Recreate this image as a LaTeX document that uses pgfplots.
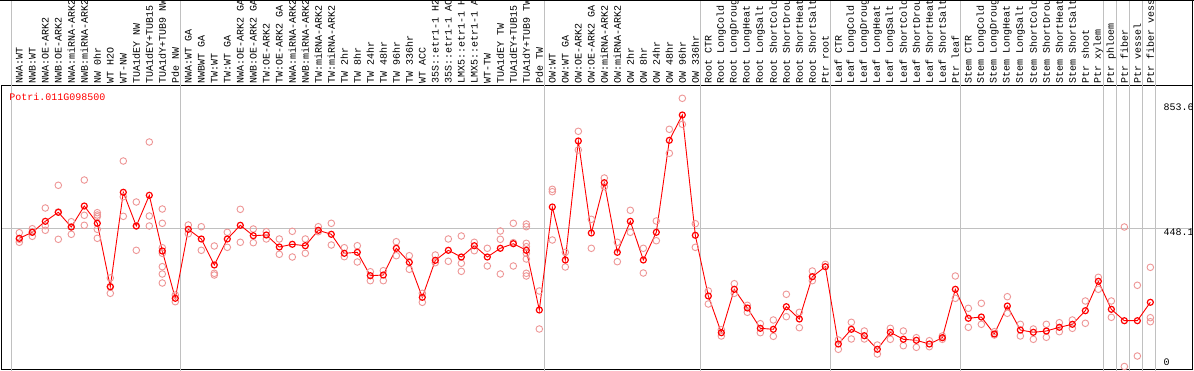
\documentclass[border=0pt]{standalone}
\usepackage{fontspec}
\usepackage{pgfplots}
\pgfplotsset{compat=1.18}
\newfontfamily\mono{Liberation Mono}
\definecolor{rep}{RGB}{238,150,150}
\definecolor{gridc}{RGB}{192,192,192}
\begin{document}
\begin{tikzpicture}[x=1pt,y=1pt]
\useasboundingbox (0,0) rectangle (1194,370);
\clip (0,0) rectangle (1194,370);
\fill[white] (0,0) rectangle (1194,370);
\begin{axis}[
  at={(1.5pt,0.7pt)}, anchor=south west, scale only axis,
  width=1191.2pt, height=284.3pt,
  xmin=-1.369, xmax=90.26, ymin=-9.08, ymax=912.6,
  clip=false, axis line style={black, line width=1pt},
  xtick={0,...,87},
  xticklabels={NWA:WT,NWB:WT,NWA:OE-ARK2,NWB:OE-ARK2,NWA:miRNA-ARK2,NWB:miRNA-ARK2,NW 0hr,WT H2O,WT-NW,TUA1dEY NW,TUA1dEY+TUB15,TUA1dY+TUB9 NW,Pde NW,
  NWA:WT GA,NWBWT GA,TW:WT,TW:WT GA,NWA:OE-ARK2 GA,NWB:OE-ARK2 GA,TW:OE-ARK2,TW:OE-ARK2 GA,NWA:miRNA-ARK2,NWB:miRNA-ARK2,TW:miRNA-ARK2,TW:miRNA-ARK2,TW 2hr,TW 8hr,TW 24hr,TW 48hr,TW 96hr,TW 336hr,WT ACC,35S::etr1-1 H2,35S::etr1-1 AC,LMX5::etr1-1 H,LMX5::etr1-1 A,WT-TW,TUA1dEY TW,TUA1dEY+TUB15,TUA1dY+TUB9 TW,Pde TW,
  OW:WT,OW:WT GA,OW:OE-ARK2,OW:OE-ARK2 GA,OW:miRNA-ARK2,OW:miRNA-ARK2,OW 2hr,OW 8hr,OW 24hr,OW 48hr,OW 96hr,OW 336hr,
  Root CTR,Root LongCold,Root LongDroug,Root LongHeat,Root LongSalt,Root ShortCold,Root ShortDrou,Root ShortHeat,Root ShortSalt,Ptr root,
  Leaf CTR,Leaf LongCold,Leaf LongDroug,Leaf LongHeat,Leaf LongSalt,Leaf ShortCold,Leaf ShortDrou,Leaf ShortHeat,Leaf ShortSalt,Ptr leaf,
  Stem CTR,Stem LongCold,Stem LongDroug,Stem LongHeat,Stem LongSalt,Stem ShortCold,Stem ShortDrou,Stem ShortHeat,Stem ShortSalt,Ptr shoot,
  Ptr xylem,Ptr phloem,Ptr fiber,Ptr vessel,Ptr fiber vess},
  xticklabel pos=upper, major tick length=0pt,
  xticklabel style={rotate=90, anchor=west, inner sep=1.5pt, font=\mono\fontsize{10}{10}\selectfont},
  ytick={448.1}, yticklabels={}, ymajorgrids,
  major grid style={gridc, line width=1pt},
]
\draw[gridc, line width=1pt] (axis cs:-0.615,-20) -- (axis cs:-0.615,1200);
\draw[gridc, line width=1pt] (axis cs:12.385,-20) -- (axis cs:12.385,1200);
\draw[gridc, line width=1pt] (axis cs:40.385,-20) -- (axis cs:40.385,1200);
\draw[gridc, line width=1pt] (axis cs:52.385,-20) -- (axis cs:52.385,1200);
\draw[gridc, line width=1pt] (axis cs:62.385,-20) -- (axis cs:62.385,1200);
\draw[gridc, line width=1pt] (axis cs:72.385,-20) -- (axis cs:72.385,1200);
\draw[gridc, line width=1pt] (axis cs:83.385,-20) -- (axis cs:83.385,1200);
\draw[gridc, line width=1pt] (axis cs:84.385,-20) -- (axis cs:84.385,1200);
\draw[gridc, line width=1pt] (axis cs:85.385,-20) -- (axis cs:85.385,1200);
\draw[gridc, line width=1pt] (axis cs:86.385,-20) -- (axis cs:86.385,1200);
\draw[gridc, line width=1pt] (axis cs:87.385,-20) -- (axis cs:87.385,1200);
% replicates
\addplot[only marks, mark=o, mark size=3.3pt, color=rep, mark options={line width=0.9pt}] coordinates {
(0,433.8)(0,412.4)(0,402.7)
(1,446.7)(1,422.1)(1,436.0)
(2,513.9)(2,456.5)(2,441.6)
(3,587.5)(3,412.4)(3,500.9)
(4,469.4)(4,428.6)(4,452.3)
(5,604.6)(5,490.2)(5,457.8)
(6,498.6)(6,491.2)(6,485.7)(6,444.8)(6,415.6)
(7,286.9)(7,237.3)(7,258.7)
(8,666.2)(8,550.5)(8,486.9)
(9,533.3)(9,376.7)(9,455.5)
(10,727.8)(10,487.9)(10,455.5)
(11,510.6)(11,464.3)(11,385.1)(11,367.0)(11,323.6)(11,299.9)(11,270.7)
(12,231.8)(12,210.1)
(13,458.7)(13,430.5)
(14,453.2)(14,376.7)
(15,390.7)(15,302.2)(15,296.6)
(16,435.1)(16,386.4)
(17,509.6)(17,402.7)
(18,445.8)(18,401.4)
(19,437.0)(19,413.4)
(20,413.4)(20,363.8)
(21,438.3)(21,355.0)
(22,413.4)(22,367.0)
(23,453.2)(23,437.0)
(24,464.3)(24,393.9)
(25,385.1)(25,356.0)
(26,391.6)(26,338.8)
(27,307.3)(27,278.2)
(28,310.6)(28,278.2)
(29,404.6)(29,359.2)
(30,359.2)(30,315.1)
(31,237.3)(31,208.1)
(32,361.5)(32,336.5)
(33,413.4)(33,341.1)
(34,423.1)(34,334.6)(34,308.6)
(35,402.7)(35,375.4)
(36,383.2)(36,325.8)
(37,439.3)(37,412.4)(37,299.9)
(38,464.3)(38,401.4)(38,325.8)
(39,462.0)(39,453.2)(39,399.4)(39,388.4)(39,367.0)(39,348.5)(39,302.2)(39,293.4)
(40,244.8)(40,121.6)
(41,574.5)(41,566.7)(41,410.1)
(42,370.2)(42,322.6)
(43,762.5)(43,701.9)
(44,477.2)(44,383.2)
(45,611.1)(45,582.9)
(46,402.7)(46,339.8)
(47,506.4)(47,435.1)
(48,383.2)(48,303.1)
(49,471.7)(49,407.8)
(50,769.0)(50,691.2)
(51,869.5)(51,785.2)
(52,463.0)(52,386.4)
(53,244.8)(53,202.6)
(54,119.3)(54,98.9)
(55,268.4)(55,237.3)
(56,198.4)(56,175.7)
(57,138.8)(57,109.6)
(58,150.8)(58,97.9)
(59,234.1)(59,161.5)
(60,175.7)(60,125.8)
(61,309.6)(61,278.2)
(62,331.3)
(63,85.9)(63,55.8)
(64,143.3)(64,89.2)
(65,115.1)(65,89.2)
(66,69.7)(66,40.5)
(67,123.8)(67,88.2)
(68,115.1)(68,67.4)
(69,93.4)(69,62.2)
(70,83.6)(70,64.2)
(71,98.9)(71,88.2)
(72,293.4)(72,221.1)
(73,188.7)(73,127.1)
(74,204.9)(74,136.8)
(75,112.8)(75,102.1)
(76,226.3)(76,172.5)
(77,136.8)(77,98.9)
(78,121.6)(78,88.2)
(79,136.8)(79,94.7)
(80,142.0)(80,112.8)
(81,150.8)(81,123.8)
(82,212.4)(82,140.1)
(83,289.2)(83,250.3)
(84,212.4)(84,159.5)
(85,452.3)(85,0)
(86,263.3)(86,34.0)
(87,321.6)(87,158.2)(87,145.2)
};
% means
\addplot[red, line width=0.9pt, mark=o, mark size=3pt, mark options={line width=1.2pt}] coordinates {
(0,415.6)(1,435.1)(2,470.7)(3,499.9)(4,452.3)(5,520.3)(6,464.3)(7,258.7)(8,564.8)(9,455.5)(10,555.0)(11,374.5)(12,221.1)(13,444.8)(14,413.4)(15,329.1)(16,413.4)(17,457.8)(18,424.1)(19,426.3)(20,387.4)(21,396.2)(22,391.6)(23,441.6)(24,428.6)(25,367.0)(26,370.2)(27,294.4)(28,296.6)(29,383.2)(30,337.8)(31,224.3)(32,344.3)(33,376.7)(34,355.0)(35,391.6)(36,355.0)(37,383.2)(38,398.1)(39,376.7)(40,183.2)(41,517.1)(42,345.3)(43,731.1)(44,432.8)(45,595.9)(46,370.2)(47,470.7)(48,345.3)(49,435.1)(50,733.3)(51,815.4)(52,425.4)(53,228.6)(54,109.6)(55,250.3)(56,189.7)(57,123.8)(58,120.6)(59,193.9)(60,154.0)(61,291.1)(62,323.6)(63,72.9)(64,120.6)(65,99.9)(66,55.8)(67,110.9)(68,88.2)(69,84.9)(70,72.9)(71,93.4)(72,250.3)(73,156.3)(74,160.5)(75,105.4)(76,196.1)(77,118.3)(78,110.9)(79,115.1)(80,127.1)(81,136.8)(82,180.9)(83,276.2)(84,185.4)(85,148.5)(86,148.5)(87,208.1)
};
\node[anchor=west, text=red, inner sep=0pt, font=\mono\fontsize{10}{10}\selectfont] at (axis cs:-0.77,874.7) {Potri.011G098500};
\node[anchor=north west, inner sep=0pt, font=\mono\fontsize{10}{10}\selectfont] at (axis cs:88.0,853.6) {853.6};
\node[anchor=north west, inner sep=0pt, font=\mono\fontsize{10}{10}\selectfont] at (axis cs:88.0,448.1) {448.1};
\node[anchor=north west, inner sep=0pt, font=\mono\fontsize{10}{10}\selectfont] at (axis cs:88.0,26.6) {0};
\end{axis}
\draw[black, line width=1pt] (0,369.5) -- (1194,369.5);
\draw[black, line width=1pt] (1192.7,0) -- (1192.7,370);
\end{tikzpicture}
\end{document}
